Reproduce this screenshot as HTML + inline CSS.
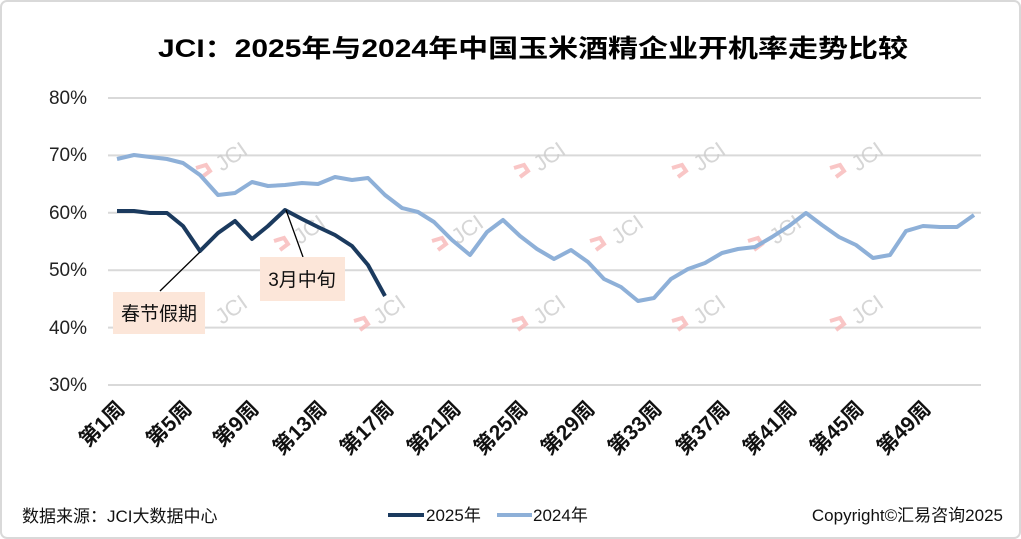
<!DOCTYPE html>
<html><head><meta charset="utf-8"><style>
html,body{margin:0;padding:0;background:#fff}
svg{display:block}
text{font-family:"Liberation Sans","Noto Sans CJK SC",sans-serif}
</style></head><body>
<svg width="1021" height="539" viewBox="0 0 1021 539" xmlns="http://www.w3.org/2000/svg">
<rect x="1" y="1" width="1019" height="537" rx="6" fill="#fff" stroke="#d9d9d9" stroke-width="2"/>
<text x="533" y="57" text-anchor="middle" font-size="25" font-weight="bold" fill="#000" textLength="750" lengthAdjust="spacingAndGlyphs">JCI：2025年与2024年中国玉米酒精企业开机率走势比较</text>
<g stroke="#d9d9d9" stroke-width="2">
<line x1="108" y1="98" x2="981" y2="98"/>
<line x1="108" y1="155.4" x2="981" y2="155.4"/>
<line x1="108" y1="212.8" x2="981" y2="212.8"/>
<line x1="108" y1="270.2" x2="981" y2="270.2"/>
<line x1="108" y1="327.6" x2="981" y2="327.6"/>
<line x1="108" y1="385" x2="981" y2="385"/>
</g>
<g font-size="19" fill="#222" text-anchor="end">
<text x="87" y="104">80%</text>
<text x="87" y="161">70%</text>
<text x="87" y="219">60%</text>
<text x="87" y="276">50%</text>
<text x="87" y="334">40%</text>
<text x="87" y="391">30%</text>
</g>
<g font-size="21" font-weight="bold" fill="#111" text-anchor="end">
<text transform="translate(126,410) rotate(-45)">第1周</text>
<text transform="translate(193,410) rotate(-45)">第5周</text>
<text transform="translate(260,410) rotate(-45)">第9周</text>
<text transform="translate(328,410) rotate(-45)">第13周</text>
<text transform="translate(395,410) rotate(-45)">第17周</text>
<text transform="translate(462,410) rotate(-45)">第21周</text>
<text transform="translate(529,410) rotate(-45)">第25周</text>
<text transform="translate(596,410) rotate(-45)">第29周</text>
<text transform="translate(663,410) rotate(-45)">第33周</text>
<text transform="translate(731,410) rotate(-45)">第37周</text>
<text transform="translate(798,410) rotate(-45)">第41周</text>
<text transform="translate(865,410) rotate(-45)">第45周</text>
<text transform="translate(932,410) rotate(-45)">第49周</text>
</g>
<g font-size="22" fill="#ccc" opacity="0.8">
<text transform="translate(222,172) rotate(-35)">JCI</text>
<text transform="translate(540,172) rotate(-35)">JCI</text>
<text transform="translate(700,172) rotate(-35)">JCI</text>
<text transform="translate(858,172) rotate(-35)">JCI</text>
<text transform="translate(300,245) rotate(-35)">JCI</text>
<text transform="translate(458,245) rotate(-35)">JCI</text>
<text transform="translate(618,245) rotate(-35)">JCI</text>
<text transform="translate(776,245) rotate(-35)">JCI</text>
<text transform="translate(222,325) rotate(-35)">JCI</text>
<text transform="translate(380,325) rotate(-35)">JCI</text>
<text transform="translate(540,325) rotate(-35)">JCI</text>
<text transform="translate(700,325) rotate(-35)">JCI</text>
<text transform="translate(858,325) rotate(-35)">JCI</text>
</g>
<g fill="none" stroke="#f8b8b8" stroke-width="4" opacity="0.8">
<path d="M196,168 l10,-3 l4,6 l-8,6"/><path d="M514,168 l10,-3 l4,6 l-8,6"/><path d="M672,168 l10,-3 l4,6 l-8,6"/><path d="M830,168 l10,-3 l4,6 l-8,6"/>
<path d="M274,241 l10,-3 l4,6 l-8,6"/><path d="M432,241 l10,-3 l4,6 l-8,6"/><path d="M590,241 l10,-3 l4,6 l-8,6"/><path d="M748,241 l10,-3 l4,6 l-8,6"/>
<path d="M354,321 l10,-3 l4,6 l-8,6"/><path d="M512,321 l10,-3 l4,6 l-8,6"/><path d="M672,321 l10,-3 l4,6 l-8,6"/><path d="M830,321 l10,-3 l4,6 l-8,6"/>
</g>
<polyline fill="none" stroke="#8eb0d8" stroke-width="4" stroke-linejoin="round" points="117,159 134,155 150,157 167,159 183,163 200,175 218,195 235,193 252,182 268,186 285,185 302,183 318,184 335,177 352,180 368,178 385,195 402,208 418,212 434,222 452,240 470,255 487,232 503,220 520,236 537,249 554,259 571,250 588,262 604,279 621,287 638,301 654,298 671,279 688,269 705,263 722,253 738,249 755,247 772,237 789,226 806,213 822,225 839,237 856,245 873,258 890,255 906,231 923,226 940,227 957,227 974,215"/>
<polyline fill="none" stroke="#1b3a5e" stroke-width="4" stroke-linejoin="round" points="117,211 134,211 150,213 167,213 183,226 200,251 218,233 235,221 252,239 268,226 285,210 302,219 318,227 335,235 352,246 368,265 385,296"/>
<line x1="200" y1="252" x2="160" y2="291" stroke="#000" stroke-width="1.3"/>
<line x1="286" y1="210" x2="303" y2="257" stroke="#000" stroke-width="1.3"/>
<rect x="113" y="292" width="92" height="42" fill="#fce6d9"/>
<text x="159" y="320" text-anchor="middle" font-size="19" fill="#111">春节假期</text>
<rect x="260" y="257" width="85" height="44" fill="#fce6d9"/>
<text x="302" y="286" text-anchor="middle" font-size="19" fill="#111">3月中旬</text>
<text x="22" y="522" font-size="17" fill="#111">数据来源：JCI大数据中心</text>
<line x1="388" y1="515" x2="424" y2="515" stroke="#1b3a5e" stroke-width="4"/>
<text x="426" y="521" font-size="17" fill="#111">2025年</text>
<line x1="497" y1="515" x2="532" y2="515" stroke="#8eb0d8" stroke-width="4"/>
<text x="533" y="521" font-size="17" fill="#111">2024年</text>
<text x="1003" y="521" text-anchor="end" font-size="17" fill="#111">Copyright©汇易咨询2025</text>
</svg>
</body></html>
